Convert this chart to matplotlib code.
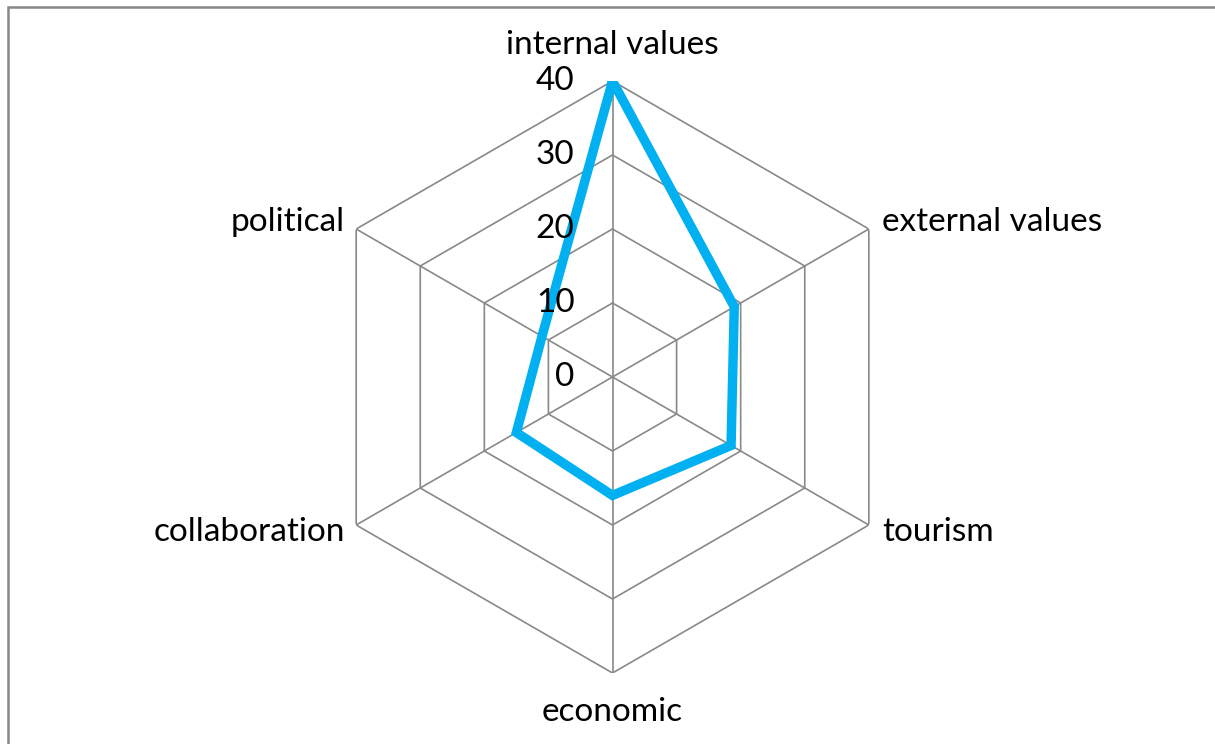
import matplotlib
matplotlib.use("Agg")
import matplotlib.pyplot as plt
import numpy as np
from matplotlib.patches import Rectangle

# data
categories = ["internal values", "external values", "tourism",
              "economic", "collaboration", "political"]
values = [40, 19, 18.5, 16, 15, 11]
rings = [0, 10, 20, 30, 40]

plt.rcParams['font.family'] = ['Lato', 'DejaVu Sans']

W, H = 1215, 744
fig = plt.figure(figsize=(W / 100, H / 100), dpi=100)

# polar axes whose centre sits at (612.5, 377) px with radius 296 px
cx, cy, R = 612.5, 377, 296
ax = fig.add_axes([(cx - R) / W, (H - cy - R) / H, 2 * R / W, 2 * R / H],
                  projection='polar')
ax.set_theta_offset(np.pi / 2)
ax.set_theta_direction(-1)
ax.set_ylim(0, 40)
ax.axis('off')

n = len(categories)
theta = np.arange(n) * 2 * np.pi / n
theta_closed = np.append(theta, theta[0])

grid_col = '#898989'
for r in rings[1:]:
    ax.plot(theta_closed, [r] * (n + 1), color=grid_col, lw=1.2, zorder=1)
for t in theta:
    ax.plot([t, t], [0, rings[-1]], color=grid_col, lw=1.2, zorder=1)

vals = values + values[:1]
ax.plot(theta_closed, vals, color='#00B0F0', lw=6.8, zorder=3,
        solid_joinstyle='miter')

fs = 24
# radial tick labels, left of the vertical axis
for r in rings:
    ax.annotate(str(r), xy=(0, r), xytext=(-38, 0), textcoords='offset pixels',
                ha='right', va='center', fontsize=fs, color='black', zorder=4)

# category labels
offsets = [(0, 36, 'center'), (13, 7, 'left'), (13, -7, 'left'),
           (0, -39, 'center'), (-11, -7, 'right'), (-11, 7, 'right')]
for t, lab, (dx, dy, ha) in zip(theta, categories, offsets):
    ax.annotate(lab, xy=(t, rings[-1]), xytext=(dx, dy),
                textcoords='offset pixels', ha=ha, va='center',
                fontsize=fs, color='black')

# chart area border (only top and left visible in the crop)
fig.add_artist(Rectangle((8 / W, -0.1), 1.2, 1.1 - 7.5 / H,
                         transform=fig.transFigure, fill=False,
                         edgecolor='#888888', lw=1.8))

fig.savefig('out.png', dpi=100)
